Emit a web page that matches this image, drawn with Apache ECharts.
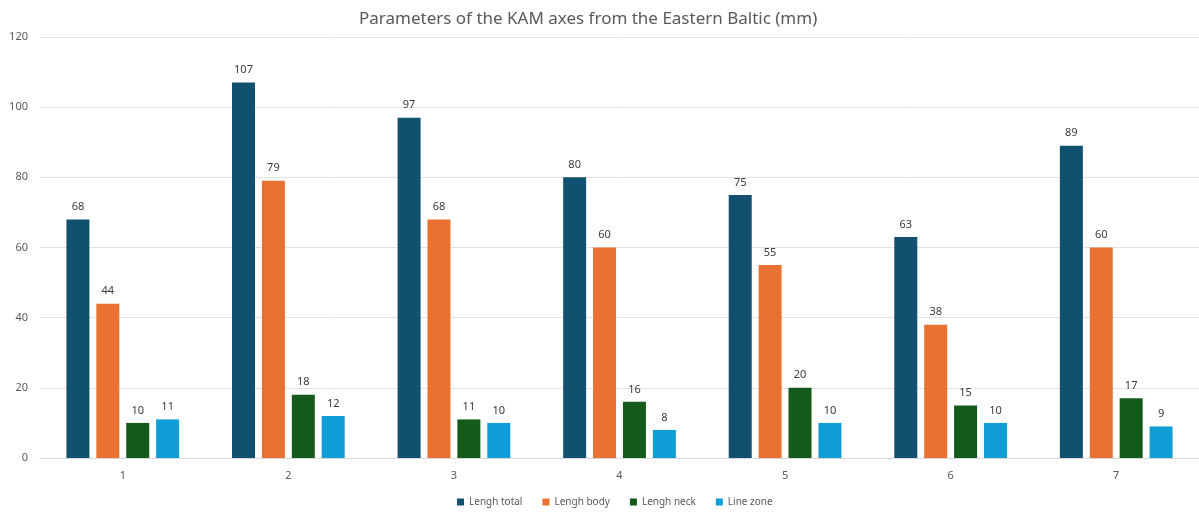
<!DOCTYPE html>
<html>
<head>
<meta charset="utf-8">
<script src="https://cdn.jsdelivr.net/npm/echarts@6/dist/echarts.min.js"></script>
<style>
  html, body { margin: 0; padding: 0; background: #ffffff; }
  #chart { width: 1199px; height: 514px; }
</style>
</head>
<body>
<div id="chart"></div>
<script>
// Axe specimens 1–7 and their measured parameters (mm)
const categories = ['1', '2', '3', '4', '5', '6', '7'];
const lenghTotal = [68, 107, 97, 80, 75, 63, 89];
const lenghBody  = [44, 79, 68, 60, 55, 38, 60];
const lenghNeck  = [10, 18, 11, 16, 20, 15, 17];
const lineZone   = [11, 12, 10, 8, 10, 10, 9];
const yTicks = [0, 20, 40, 60, 80, 100, 120];

const FONT = '"Noto Sans", "Open Sans", sans-serif';

function barSeries(name, data, color) {
  return {
    name: name,
    type: 'bar',
    data: data,
    barWidth: 23,
    barGap: '30%',
    itemStyle: { color: color },
    label: {
      show: true,
      position: 'top',
      distance: 7,
      color: '#3a3a3a',
      fontSize: 11,
      fontFamily: FONT
    }
  };
}

const chart = echarts.init(document.getElementById('chart'), null, { renderer: 'canvas' });
chart.setOption({
  animation: false,
  backgroundColor: '#ffffff',
  title: {
    text: 'Parameters of the KAM axes from the Eastern Baltic (mm)',
    left: 354,
    top: 6,
    textStyle: { color: '#595959', fontSize: 17, fontWeight: 'normal', fontFamily: FONT }
  },
  legend: {
    bottom: 2,
    left: 452,
    icon: 'rect',
    itemWidth: 7,
    itemHeight: 7,
    itemGap: 20,
    textStyle: { color: '#595959', fontSize: 10, fontFamily: FONT },
    data: ['Lengh total', 'Lengh body', 'Lengh neck', 'Line zone']
  },
  grid: { left: 40, right: 0, top: 37, bottom: 56, containLabel: false },
  xAxis: {
    type: 'category',
    data: categories,
    axisTick: { show: false },
    axisLine: { lineStyle: { color: '#d9d9d9' } },
    axisLabel: { color: '#595959', fontSize: 11, fontFamily: FONT, margin: 12 }
  },
  yAxis: {
    type: 'value',
    min: yTicks[0],
    max: yTicks[yTicks.length - 1],
    interval: yTicks[1] - yTicks[0],
    axisLine: { show: false },
    axisTick: { show: false },
    axisLabel: { color: '#595959', fontSize: 11, fontFamily: FONT, margin: 12 },
    splitLine: { lineStyle: { color: '#e3e3e3' } }
  },
  series: [
    barSeries('Lengh total', lenghTotal, '#12506F'),
    barSeries('Lengh body', lenghBody, '#E97132'),
    barSeries('Lengh neck', lenghNeck, '#135A1B'),
    barSeries('Line zone', lineZone, '#0F9ED5')
  ]
});
</script>
</body>
</html>
